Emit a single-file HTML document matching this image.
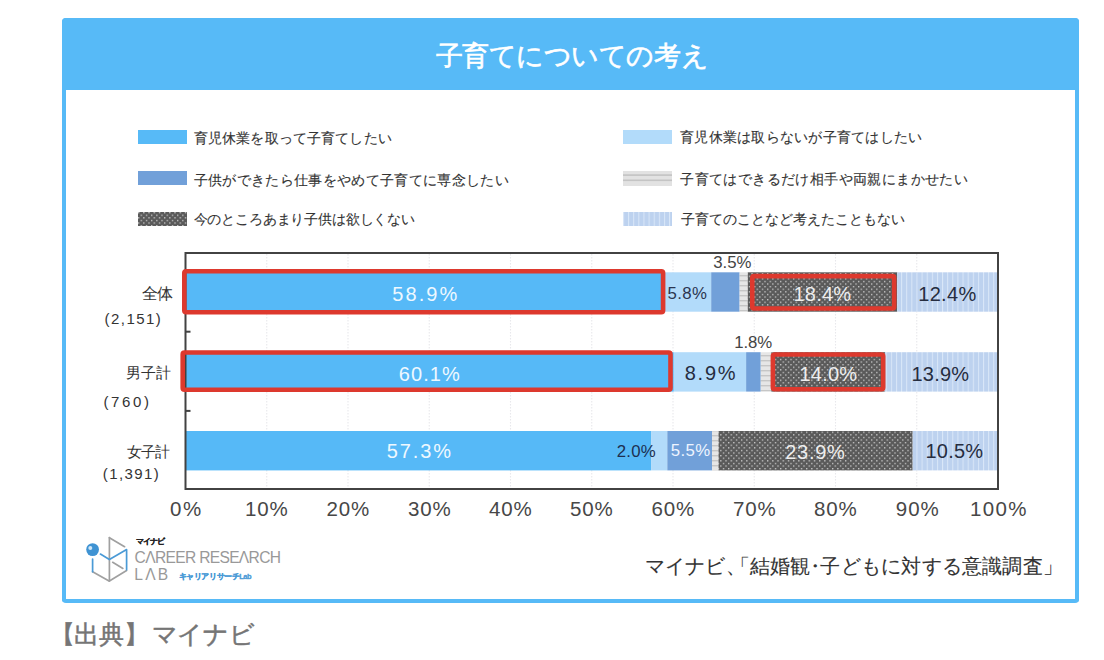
<!DOCTYPE html>
<html><head><meta charset="utf-8">
<style>
html,body{margin:0;padding:0;background:#fff;width:1104px;height:660px;overflow:hidden}
body{position:relative;font-family:"Liberation Sans",sans-serif}
.g{}
.frame{position:absolute;left:62px;top:18px;width:1017px;height:585px;box-sizing:border-box;border:4.5px solid #57baf7;border-top:0;border-radius:4px;background:#fff}
.hdr{position:absolute;left:62px;top:18px;width:1017px;height:72px;background:#57baf7;border-radius:4px 4px 0 0}
.t{position:absolute;white-space:nowrap;line-height:1}
.sw{position:absolute;width:49px;height:14px}
svg{position:absolute;left:0;top:0}
.p1{letter-spacing:-8px}
.p2{margin-left:-8px}
.p3{margin-left:-5px;letter-spacing:-5px}
.p2b{letter-spacing:-8px}
</style></head><body>
<div class="g">
<div class="frame"></div>
<div class="hdr"></div>
<div class="sw" style="left:137.6px;top:129.9px;background:#57baf7"></div>
<div class="sw" style="left:137.6px;top:170.8px;height:13.8px;background:#71a0d9"></div>
<div class="sw" style="left:137.6px;top:212px"><svg width="49" height="14"><rect width="49" height="14" fill="url(#dots)"/></svg></div>
<div class="sw" style="left:623px;top:129.9px;background:#b2dbfa"></div>
<div class="sw" style="left:623px;top:170.7px;height:15px"><svg width="49" height="15"><rect width="49" height="15" fill="#e2e2e2"/><rect y="3.3" width="49" height="1.6" fill="#c4c4c4"/><rect y="8.5" width="49" height="1.6" fill="#c4c4c4"/></svg></div>
<div class="sw" style="left:623px;top:212px"><svg width="49" height="14"><rect width="49" height="14" fill="url(#vs)"/></svg></div>
<svg width="1104" height="660" viewBox="0 0 1104 660">
<defs>
<pattern id="hs" patternUnits="userSpaceOnUse" width="8" height="5"><rect width="8" height="5" fill="#e6e6e6"/><rect y="0" width="8" height="1.4" fill="#c6c6c6"/></pattern>
<pattern id="vs" patternUnits="userSpaceOnUse" width="5.12" height="8"><rect width="5.12" height="8" fill="#bdd2ef"/><rect x="0" width="1" height="8" fill="#d9e7f8"/></pattern>
<pattern id="dots" patternUnits="userSpaceOnUse" width="5.2" height="5.2"><rect width="5.2" height="5.2" fill="#5a5a5a"/><rect x="0" y="0" width="1.3" height="1.3" fill="#cdcdcd"/><rect x="2.6" y="2.6" width="1.3" height="1.3" fill="#cdcdcd"/></pattern>
</defs>
<line x1="266.75" y1="254" x2="266.75" y2="488" stroke="#e8e8ec" stroke-width="1.1" stroke-dasharray="1.5 1.5"/>
<line x1="348.00" y1="254" x2="348.00" y2="488" stroke="#e8e8ec" stroke-width="1.1" stroke-dasharray="1.5 1.5"/>
<line x1="429.25" y1="254" x2="429.25" y2="488" stroke="#e8e8ec" stroke-width="1.1" stroke-dasharray="1.5 1.5"/>
<line x1="510.50" y1="254" x2="510.50" y2="488" stroke="#e8e8ec" stroke-width="1.1" stroke-dasharray="1.5 1.5"/>
<line x1="591.75" y1="254" x2="591.75" y2="488" stroke="#e8e8ec" stroke-width="1.1" stroke-dasharray="1.5 1.5"/>
<line x1="673.00" y1="254" x2="673.00" y2="488" stroke="#e8e8ec" stroke-width="1.1" stroke-dasharray="1.5 1.5"/>
<line x1="754.25" y1="254" x2="754.25" y2="488" stroke="#e8e8ec" stroke-width="1.1" stroke-dasharray="1.5 1.5"/>
<line x1="835.50" y1="254" x2="835.50" y2="488" stroke="#e8e8ec" stroke-width="1.1" stroke-dasharray="1.5 1.5"/>
<line x1="916.75" y1="254" x2="916.75" y2="488" stroke="#e8e8ec" stroke-width="1.1" stroke-dasharray="1.5 1.5"/>
<rect x="185.50" y="272.3" width="478.56" height="39.4" fill="#56b9f7"/>
<rect x="664.06" y="272.3" width="47.12" height="39.4" fill="#b2dbfa"/>
<rect x="711.19" y="272.3" width="28.44" height="39.4" fill="#71a0d9"/>
<rect x="739.62" y="272.3" width="8.12" height="39.4" fill="url(#hs)"/>
<rect x="747.75" y="272.3" width="149.50" height="39.4" fill="url(#dots)"/>
<rect x="897.25" y="272.3" width="100.75" height="39.4" fill="url(#vs)"/>
<rect x="185.50" y="352.2" width="488.31" height="39.4" fill="#56b9f7"/>
<rect x="673.81" y="352.2" width="72.31" height="39.4" fill="#b2dbfa"/>
<rect x="746.12" y="352.2" width="14.62" height="39.4" fill="#71a0d9"/>
<rect x="760.75" y="352.2" width="10.56" height="39.4" fill="url(#hs)"/>
<rect x="771.31" y="352.2" width="113.75" height="39.4" fill="url(#dots)"/>
<rect x="885.06" y="352.2" width="112.94" height="39.4" fill="url(#vs)"/>
<rect x="185.50" y="431.0" width="465.56" height="39.4" fill="#56b9f7"/>
<rect x="651.06" y="431.0" width="16.25" height="39.4" fill="#b2dbfa"/>
<rect x="667.31" y="431.0" width="44.69" height="39.4" fill="#71a0d9"/>
<rect x="712.00" y="431.0" width="6.50" height="39.4" fill="url(#hs)"/>
<rect x="718.50" y="431.0" width="194.19" height="39.4" fill="url(#dots)"/>
<rect x="912.69" y="431.0" width="85.31" height="39.4" fill="url(#vs)"/>
<rect x="185.5" y="253" width="812.5" height="236" fill="none" stroke="#424242" stroke-width="2"/>
<line x1="185.5" y1="331.7" x2="190.5" y2="331.7" stroke="#424242" stroke-width="2"/>
<line x1="185.5" y1="410.9" x2="190.5" y2="410.9" stroke="#424242" stroke-width="2"/>
<rect x="184.30" y="271.20" width="478.80" height="41.10" rx="1.8" fill="none" stroke="#dd392e" stroke-width="4.6"/>
<rect x="752.30" y="276.10" width="141.90" height="32.40" rx="1.8" fill="none" stroke="#dd392e" stroke-width="4.6"/>
<rect x="182.70" y="352.50" width="487.80" height="37.20" rx="1.8" fill="none" stroke="#dd392e" stroke-width="4.6"/>
<rect x="772.90" y="354.50" width="110.30" height="34.70" rx="1.8" fill="none" stroke="#dd392e" stroke-width="4.6"/>
</svg>
<svg width="60" height="60" style="left:80px;top:530px" viewBox="80 530 60 60">
<g fill="none" stroke-width="1.7" stroke-linecap="round" stroke-linejoin="round">
<polyline points="109.4,537.7 124.6,546.7" stroke="#a0a0a0"/>
<line x1="109.4" y1="537.7" x2="109.4" y2="581" stroke="#a0a0a0"/>
<polyline points="92.6,571.7 108.6,580.8" stroke="#a0a0a0"/>
<polyline points="109.4,581 126.6,570.5" stroke="#a0a0a0"/>
<line x1="112.7" y1="562.3" x2="122.9" y2="568.4" stroke="#a0a0a0"/>
<polyline points="100.4,554.1 109.4,559.4 126.6,549.6 126.6,569.6" stroke="#4a9ad6"/>
<line x1="92.6" y1="559" x2="92.6" y2="571.7" stroke="#4a9ad6"/>
</g>
<circle cx="92.6" cy="549.6" r="6.4" fill="#3f93d3"/>
<circle cx="90.3" cy="547.9" r="2" fill="#cfe6f7"/>
</svg>
</div>
<div class="t" id="title" style="left:435.50px;top:42.50px;font-size:27.00px;letter-spacing:-0.444px;color:#fff;-webkit-text-stroke:0.6px #fff">子育てについての考え</div>
<div class="t" id="leg1" style="left:193.75px;top:130.75px;font-size:14.00px;letter-spacing:0.154px;color:#333;-webkit-text-stroke:0.12px #333">育児休業を取って子育てしたい</div>
<div class="t" id="leg2" style="left:193.50px;top:172.50px;font-size:14.00px;letter-spacing:0.343px;color:#333;-webkit-text-stroke:0.12px #333">子供ができたら仕事をやめて子育てに専念したい</div>
<div class="t" id="leg3" style="left:193.50px;top:212.00px;font-size:14.00px;letter-spacing:-0.160px;color:#333;-webkit-text-stroke:0.12px #333">今のところあまり子供は欲しくない</div>
<div class="t" id="legr1" style="left:680.00px;top:130.00px;font-size:14.00px;letter-spacing:0.250px;color:#333;-webkit-text-stroke:0.12px #333">育児休業は取らないが子育てはしたい</div>
<div class="t" id="legr2" style="left:680.25px;top:172.00px;font-size:14.00px;letter-spacing:0.400px;color:#333;-webkit-text-stroke:0.12px #333">子育てはできるだけ相手や両親にまかせたい</div>
<div class="t" id="legr3" style="left:680.50px;top:211.50px;font-size:14.00px;letter-spacing:-0.000px;color:#333;-webkit-text-stroke:0.12px #333">子育てのことなど考えたこともない</div>
<div class="t" id="zentai" style="left:141.65px;top:285.85px;font-size:15.50px;letter-spacing:-0.640px;color:#333">全体</div>
<div class="t" id="n2151" style="left:104.50px;top:310.50px;font-size:15.00px;letter-spacing:1.467px;color:#333">(2,151)</div>
<div class="t" id="danshi" style="left:125.65px;top:365.90px;font-size:14.60px;letter-spacing:0.000px;color:#333">男子計</div>
<div class="t" id="n760" style="left:103.50px;top:393.50px;font-size:15.00px;letter-spacing:2.600px;color:#333">(760)</div>
<div class="t" id="joshi" style="left:126.65px;top:444.75px;font-size:14.60px;letter-spacing:-0.800px;color:#333">女子計</div>
<div class="t" id="n1391" style="left:102.75px;top:465.50px;font-size:15.00px;letter-spacing:1.400px;color:#333">(1,391)</div>
<div class="t" id="b589" style="left:392.25px;top:284.00px;font-size:20.00px;letter-spacing:2.100px;color:#eef8ff">58.9%</div>
<div class="t" id="b58" style="left:667.45px;top:285.50px;font-size:16.80px;letter-spacing:0.373px;color:#2b3550">5.8%</div>
<div class="t" id="b35" style="left:713.25px;top:255.30px;font-size:16.80px;letter-spacing:0.000px;color:#444">3.5%</div>
<div class="t" id="b184" style="left:793.50px;top:284.00px;font-size:20.00px;letter-spacing:0.200px;color:#eeeeee">18.4%</div>
<div class="t" id="b124" style="left:918.25px;top:284.00px;font-size:20.00px;letter-spacing:0.300px;color:#262d40">12.4%</div>
<div class="t" id="b601" style="left:398.75px;top:363.50px;font-size:20.00px;letter-spacing:1.100px;color:#eef8ff">60.1%</div>
<div class="t" id="b89" style="left:684.75px;top:363.00px;font-size:20.00px;letter-spacing:1.733px;color:#262d40">8.9%</div>
<div class="t" id="b18" style="left:734.15px;top:334.60px;font-size:16.80px;letter-spacing:-0.053px;color:#444">1.8%</div>
<div class="t" id="b140" style="left:799.50px;top:363.50px;font-size:20.00px;letter-spacing:0.200px;color:#eeeeee">14.0%</div>
<div class="t" id="b139" style="left:911.50px;top:363.50px;font-size:20.00px;letter-spacing:0.200px;color:#262d40">13.9%</div>
<div class="t" id="b573" style="left:386.75px;top:441.00px;font-size:20.00px;letter-spacing:1.900px;color:#eef8ff">57.3%</div>
<div class="t" id="b20" style="left:616.70px;top:443.60px;font-size:16.80px;letter-spacing:0.267px;color:#1d2f50">2.0%</div>
<div class="t" id="b55" style="left:670.75px;top:443.30px;font-size:16.80px;letter-spacing:0.373px;color:#eef4ff">5.5%</div>
<div class="t" id="b239" style="left:785.25px;top:441.50px;font-size:20.00px;letter-spacing:0.700px;color:#eeeeee">23.9%</div>
<div class="t" id="b105" style="left:925.50px;top:441.25px;font-size:20.00px;letter-spacing:0.200px;color:#262d40">10.5%</div>
<div class="t" id="ax0" style="left:170.00px;top:499.00px;font-size:20.50px;letter-spacing:1.600px;color:#474747">0%</div>
<div class="t" id="ax10" style="left:245.00px;top:499.00px;font-size:20.50px;letter-spacing:0.800px;color:#474747">10%</div>
<div class="t" id="ax20" style="left:326.50px;top:499.40px;font-size:20.50px;letter-spacing:0.800px;color:#474747">20%</div>
<div class="t" id="ax30" style="left:408.00px;top:499.40px;font-size:20.50px;letter-spacing:0.800px;color:#474747">30%</div>
<div class="t" id="ax40" style="left:489.00px;top:499.40px;font-size:20.50px;letter-spacing:0.800px;color:#474747">40%</div>
<div class="t" id="ax50" style="left:570.00px;top:499.40px;font-size:20.50px;letter-spacing:0.800px;color:#474747">50%</div>
<div class="t" id="ax60" style="left:651.50px;top:499.40px;font-size:20.50px;letter-spacing:0.800px;color:#474747">60%</div>
<div class="t" id="ax70" style="left:733.00px;top:499.40px;font-size:20.50px;letter-spacing:0.800px;color:#474747">70%</div>
<div class="t" id="ax80" style="left:814.00px;top:499.40px;font-size:20.50px;letter-spacing:0.800px;color:#474747">80%</div>
<div class="t" id="ax90" style="left:895.75px;top:499.00px;font-size:20.50px;letter-spacing:1.000px;color:#474747">90%</div>
<div class="t" id="ax100" style="left:970.00px;top:499.00px;font-size:20.50px;letter-spacing:1.333px;color:#474747">100%</div>
<div class="t" id="src" style="left:644.75px;top:555.50px;font-size:20.00px;letter-spacing:0.210px;color:#333;-webkit-text-stroke:0.12px #333">マイナビ<span class=p1>、</span><span class=p2>「</span>結婚観<span class=p3>・</span>子どもに対する意識調査<span class=p2b>」</span></div>
<div class="t" id="shutten" style="left:49.70px;top:622.00px;font-size:25.00px;letter-spacing:-0.297px;color:#757575;-webkit-text-stroke:0.5px #757575">【出典】<span style="margin-left:3px">マイナビ</span></div>
<div class="t" id="mynavi" style="left:135.50px;top:537.50px;font-size:8.00px;letter-spacing:-0.800px;color:#222;font-weight:bold;-webkit-text-stroke:0.2px #222">マイナビ</div>
<div class="t" id="career" style="left:134.60px;top:550.40px;font-size:15.60px;letter-spacing:-0.686px;color:#999">CΛREER RESEΛRCH</div>
<div class="t" id="lab" style="left:134.30px;top:567.00px;font-size:15.60px;letter-spacing:2.160px;color:#999">LΛB</div>
<div class="t" id="careerjp" style="left:178.75px;top:572.50px;font-size:7.50px;letter-spacing:-0.440px;color:#4a9ad6;font-weight:bold;-webkit-text-stroke:0.3px #4a9ad6">キャリアリサーチLab</div>
</body></html>
